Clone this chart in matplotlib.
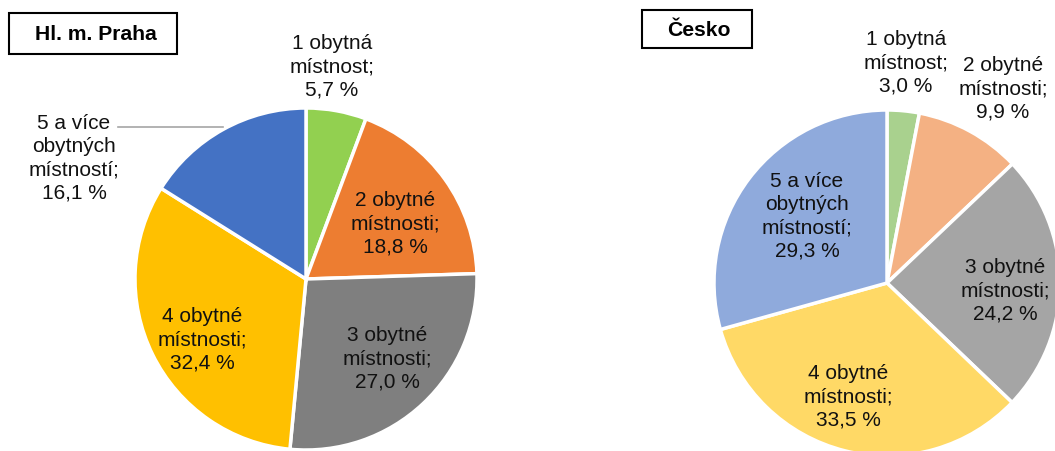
import matplotlib
matplotlib.use("Agg")
import matplotlib.pyplot as plt
from matplotlib.patches import Rectangle

plt.rcParams['font.family'] = ['Liberation Sans', 'DejaVu Sans']

categories = ["1 obytná\nmístnost", "2 obytné\nmístnosti", "3 obytné\nmístnosti",
              "4 obytné\nmístnosti", "5 a více\nobytných\nmístností"]
praha_values = [5.7, 18.8, 27.0, 32.4, 16.1]
cesko_values = [3.0, 9.9, 24.2, 33.5, 29.3]
titles = ["Hl. m. Praha", "Česko"]

praha_colors = ["#92D050", "#ED7D31", "#7F7F7F", "#FFC000", "#4472C4"]
cesko_colors = ["#A9D18E", "#F4B183", "#A5A5A5", "#FFD966", "#8FAADC"]

W, H = 1055, 451
fig = plt.figure(figsize=(W / 100, H / 100), dpi=100)
ax = fig.add_axes([0, 0, 1, 1])

def fmt(cat, v):
    return f"{cat};\n{v:.1f} %".replace('.', ',')

# pie positions in pixel coords (y from top)
pies = [
    dict(values=praha_values, colors=praha_colors, center=(306, 279), r=171,
         label_pos=[(332, 67), (395, 224), (387, 359), (202, 340), (74, 158)],
         box=(9, 13, 177, 54), title_pos=(96, 34)),
    dict(values=cesko_values, colors=cesko_colors, center=(887, 283), r=173,
         label_pos=[(906, 63), (1003, 89), (1005, 291), (848, 397), (807, 216)],
         box=(642, 10, 752, 48), title_pos=(699, 30)),
]

for p, title in zip(pies, titles):
    cx, cy = p['center']
    ax.pie(p['values'], colors=p['colors'], startangle=90, counterclock=False,
           center=(cx, H - cy), radius=p['r'], frame=True,
           wedgeprops=dict(edgecolor='white', linewidth=2.5))
    for cat, v, (lx, ly) in zip(categories, p['values'], p['label_pos']):
        ax.text(lx, H - ly, fmt(cat, v), ha='center', va='center',
                multialignment='center', fontsize=15, color='#111111',
                linespacing=1.27)
    x0, y0, x1, y1 = p['box']
    ax.add_patch(Rectangle((x0, H - y1), x1 - x0, y1 - y0, fill=False,
                           edgecolor='black', linewidth=1.5))
    ax.text(p['title_pos'][0], H - p['title_pos'][1], title, ha='center',
            va='center', fontsize=15.2, fontweight='bold', color='black')

# leader line for 5+ label in Praha pie
ax.plot([118, 223], [H - 127, H - 127], color='#A6A6A6', linewidth=1.2)

ax.set_xlim(0, W)
ax.set_ylim(0, H)
ax.set_aspect('auto')
ax.axis('off')
fig.savefig("out.png", dpi=100)
